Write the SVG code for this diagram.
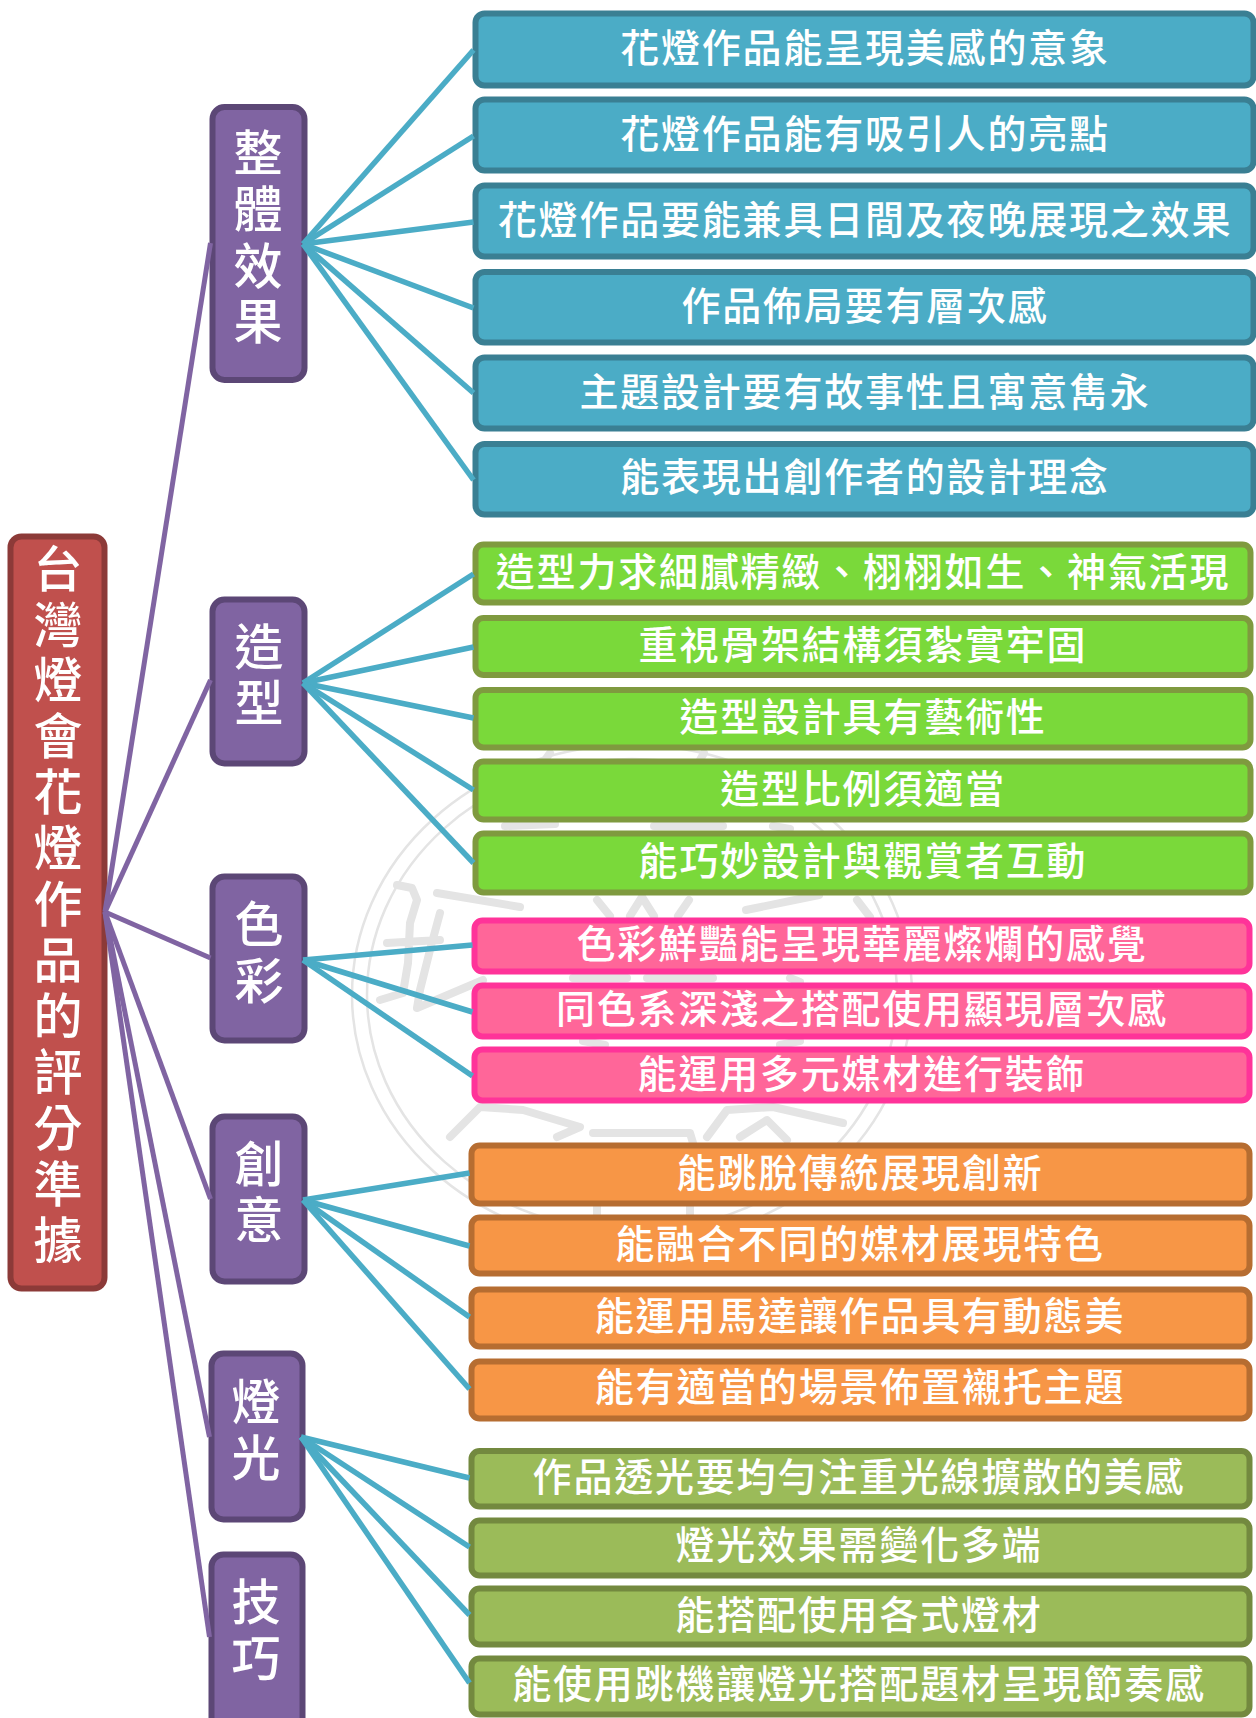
<svg xmlns="http://www.w3.org/2000/svg" width="1256" height="1718" viewBox="0 0 1256 1718">
<style>
text{font-family:"Noto Sans CJK TC","Noto Sans CJK SC",sans-serif;fill:#fff;font-weight:500}
.l{font-size:39px;letter-spacing:1.8px;text-anchor:middle}
.v{font-size:49px;text-anchor:middle}
rect{stroke-width:6}
.blue{fill:#4BACC6;stroke:#3A7F93}
.green{fill:#7AD93A;stroke:#7F9A3F}
.pink{fill:#FF6699;stroke:#FF3399}
.orange{fill:#F79646;stroke:#B66D31}
.olive{fill:#9BBB59;stroke:#73893F}
.purple{fill:#8064A2;stroke:#5C4776}
.red{fill:#C0504D;stroke:#8C3A38}
.p{stroke:#8064A2;stroke-width:5}
.b{stroke:#4BACC6;stroke-width:5.5}
#seal *{fill:none;stroke:#e4e4e4}
#seal .g{stroke-width:8;stroke-linecap:round;stroke-linejoin:round}
</style>
<rect width="1256" height="1718" fill="#fff" stroke="none"/>
<g id="seal">
<ellipse cx="632" cy="995" rx="280" ry="250" stroke-width="2.5"/>
<ellipse cx="632" cy="995" rx="265" ry="236" stroke-width="2.5"/>
<path class="g" d="M397 885L412 888L417 900L410 923L408 963L403 993L380 1000M387 943L440 940M437 893L520 907M440 913L430 950L420 990L417 1008L483 980"/>
<path class="g" d="M450 1137L480 1107L523 1110L580 1127L557 1137M593 1133L690 1133L693 1143M707 1137L727 1110L773 1107L843 1123M740 1137L767 1120L787 1140"/>
<path class="g" d="M550 753L545 760M704 753L700 760M505 826L555 824M654 826L723 826M773 826L790 829M597 900L610 916M689 900L678 916M642 897L630 916M642 897L654 916M746 910L819 895M857 900L870 917M573 978L627 978M647 978L713 978M790 978L800 982M583 1041L605 1045M780 1045L800 1041M597 1207L597 1215M690 1207L690 1215"/>
</g>
<g id="root"><rect class="red" x="10.5" y="536.5" width="94" height="752" rx="11"/>
<text class="v"><tspan x="58" y="587">台</tspan><tspan x="58" y="643">灣</tspan><tspan x="58" y="698">燈</tspan><tspan x="58" y="754">會</tspan><tspan x="58" y="810">花</tspan><tspan x="58" y="866">燈</tspan><tspan x="58" y="922">作</tspan><tspan x="58" y="978">品</tspan><tspan x="58" y="1034">的</tspan><tspan x="58" y="1090">評</tspan><tspan x="58" y="1146">分</tspan><tspan x="58" y="1202">準</tspan><tspan x="58" y="1258">據</tspan></text></g>
<g id="cat1"><rect class="purple" x="212.5" y="107" width="92" height="273" rx="12"/><text class="v"><tspan x="258" y="171">整</tspan><tspan x="258" y="227">體</tspan><tspan x="258" y="284">效</tspan><tspan x="258" y="339">果</tspan></text></g>
<g id="cat2"><rect class="purple" x="212.5" y="599.5" width="92" height="164" rx="12"/><text class="v"><tspan x="259" y="665">造</tspan><tspan x="259" y="721">型</tspan></text></g>
<g id="cat3"><rect class="purple" x="212.5" y="876.5" width="92" height="164" rx="12"/><text class="v"><tspan x="259" y="942">色</tspan><tspan x="259" y="999">彩</tspan></text></g>
<g id="cat4"><rect class="purple" x="212.5" y="1116.5" width="92" height="165" rx="12"/><text class="v"><tspan x="259" y="1182">創</tspan><tspan x="259" y="1238">意</tspan></text></g>
<g id="cat5"><rect class="purple" x="211.5" y="1353.5" width="91" height="166" rx="12"/><text class="v"><tspan x="256" y="1420">燈</tspan><tspan x="256" y="1476">光</tspan></text></g>
<g id="cat6"><rect class="purple" x="211.5" y="1554.5" width="91" height="180" rx="12"/><text class="v"><tspan x="256" y="1620">技</tspan><tspan x="256" y="1676">巧</tspan></text></g>
<g id="b1"><rect class="blue" x="475.5" y="13.5" width="778" height="72" rx="9"/><text class="l" x="865" y="62">花燈作品能呈現美感的意象</text></g>
<g id="b2"><rect class="blue" x="475.5" y="99.5" width="778" height="71" rx="9"/><text class="l" x="865" y="148">花燈作品能有吸引人的亮點</text></g>
<g id="b3"><rect class="blue" x="475.5" y="185.5" width="778" height="71" rx="9"/><text class="l" x="865" y="234">花燈作品要能兼具日間及夜晚展現之效果</text></g>
<g id="b4"><rect class="blue" x="475.5" y="272" width="778" height="70.5" rx="9"/><text class="l" x="865" y="320">作品佈局要有層次感</text></g>
<g id="b5"><rect class="blue" x="475.5" y="357.5" width="778" height="71" rx="9"/><text class="l" x="865" y="406">主題設計要有故事性且寓意雋永</text></g>
<g id="b6"><rect class="blue" x="475.5" y="444" width="778" height="70.5" rx="9"/><text class="l" x="865" y="491">能表現出創作者的設計理念</text></g>
<g id="g1"><rect class="green" x="475.5" y="544.5" width="775" height="58" rx="8"/><text class="l" x="863" y="586">造型力求細膩精緻、栩栩如生、神氣活現</text></g>
<g id="g2"><rect class="green" x="475.5" y="618" width="775" height="57" rx="8"/><text class="l" x="863" y="659">重視骨架結構須紮實牢固</text></g>
<g id="g3"><rect class="green" x="475.5" y="690" width="775" height="57.5" rx="8"/><text class="l" x="863" y="731">造型設計具有藝術性</text></g>
<g id="g4"><rect class="green" x="475.5" y="761.5" width="775" height="58" rx="8"/><text class="l" x="863" y="803">造型比例須適當</text></g>
<g id="g5"><rect class="green" x="475.5" y="833.5" width="775" height="59" rx="8"/><text class="l" x="863" y="875">能巧妙設計與觀賞者互動</text></g>
<g id="p1"><rect class="pink" x="474.5" y="920.5" width="775" height="51" rx="8"/><text class="l" x="862" y="958">色彩鮮豔能呈現華麗燦爛的感覺</text></g>
<g id="p2"><rect class="pink" x="474.5" y="985.5" width="775" height="51" rx="8"/><text class="l" x="862" y="1023">同色系深淺之搭配使用顯現層次感</text></g>
<g id="p3"><rect class="pink" x="474.5" y="1049.5" width="775" height="51" rx="8"/><text class="l" x="862" y="1088">能運用多元媒材進行裝飾</text></g>
<g id="o1"><rect class="orange" x="471.5" y="1145.5" width="778" height="58" rx="8"/><text class="l" x="860" y="1187">能跳脫傳統展現創新</text></g>
<g id="o2"><rect class="orange" x="471.5" y="1217.5" width="778" height="56" rx="8"/><text class="l" x="860" y="1258">能融合不同的媒材展現特色</text></g>
<g id="o3"><rect class="orange" x="471.5" y="1289.5" width="778" height="57" rx="8"/><text class="l" x="860" y="1330">能運用馬達讓作品具有動態美</text></g>
<g id="o4"><rect class="orange" x="471.5" y="1361.5" width="778" height="57" rx="8"/><text class="l" x="860" y="1401">能有適當的場景佈置襯托主題</text></g>
<g id="v1"><rect class="olive" x="471.5" y="1451" width="778" height="55.5" rx="8"/><text class="l" x="859" y="1491">作品透光要均勻注重光線擴散的美感</text></g>
<g id="v2"><rect class="olive" x="471.5" y="1520.5" width="778" height="55" rx="8"/><text class="l" x="859" y="1559">燈光效果需變化多端</text></g>
<g id="v3"><rect class="olive" x="471.5" y="1588.5" width="778" height="56" rx="8"/><text class="l" x="859" y="1629">能搭配使用各式燈材</text></g>
<g id="v4"><rect class="olive" x="471.5" y="1658.5" width="778" height="56" rx="8"/><text class="l" x="859" y="1698">能使用跳機讓燈光搭配題材呈現節奏感</text></g>
<g id="connectors">
<line class="p" x1="105" y1="912" x2="210.5" y2="243"/>
<line class="p" x1="105" y1="912" x2="210.5" y2="680"/>
<line class="p" x1="105" y1="912" x2="210.5" y2="958"/>
<line class="p" x1="105" y1="912" x2="210.5" y2="1199"/>
<line class="p" x1="105" y1="912" x2="209.5" y2="1437"/>
<line class="p" x1="105" y1="912" x2="209.5" y2="1637"/>
<line class="b" x1="303" y1="244" x2="473.5" y2="50"/>
<line class="b" x1="303" y1="244" x2="473.5" y2="136"/>
<line class="b" x1="303" y1="244" x2="473.5" y2="222"/>
<line class="b" x1="303" y1="244" x2="473.5" y2="308"/>
<line class="b" x1="303" y1="244" x2="473.5" y2="393"/>
<line class="b" x1="303" y1="244" x2="473.5" y2="480"/>
<line class="b" x1="303" y1="683" x2="473.5" y2="574"/>
<line class="b" x1="303" y1="683" x2="473.5" y2="647"/>
<line class="b" x1="303" y1="683" x2="473.5" y2="718"/>
<line class="b" x1="303" y1="683" x2="473.5" y2="790"/>
<line class="b" x1="303" y1="683" x2="473.5" y2="863"/>
<line class="b" x1="303" y1="960" x2="472.5" y2="945"/>
<line class="b" x1="303" y1="960" x2="472.5" y2="1012"/>
<line class="b" x1="303" y1="960" x2="472.5" y2="1076"/>
<line class="b" x1="303" y1="1200" x2="469.5" y2="1173"/>
<line class="b" x1="303" y1="1200" x2="469.5" y2="1246"/>
<line class="b" x1="303" y1="1200" x2="469.5" y2="1317"/>
<line class="b" x1="303" y1="1200" x2="469.5" y2="1389"/>
<line class="b" x1="301" y1="1437" x2="469.5" y2="1478"/>
<line class="b" x1="301" y1="1437" x2="469.5" y2="1547"/>
<line class="b" x1="301" y1="1437" x2="469.5" y2="1615"/>
<line class="b" x1="301" y1="1437" x2="469.5" y2="1683"/>
</g>
</svg>
